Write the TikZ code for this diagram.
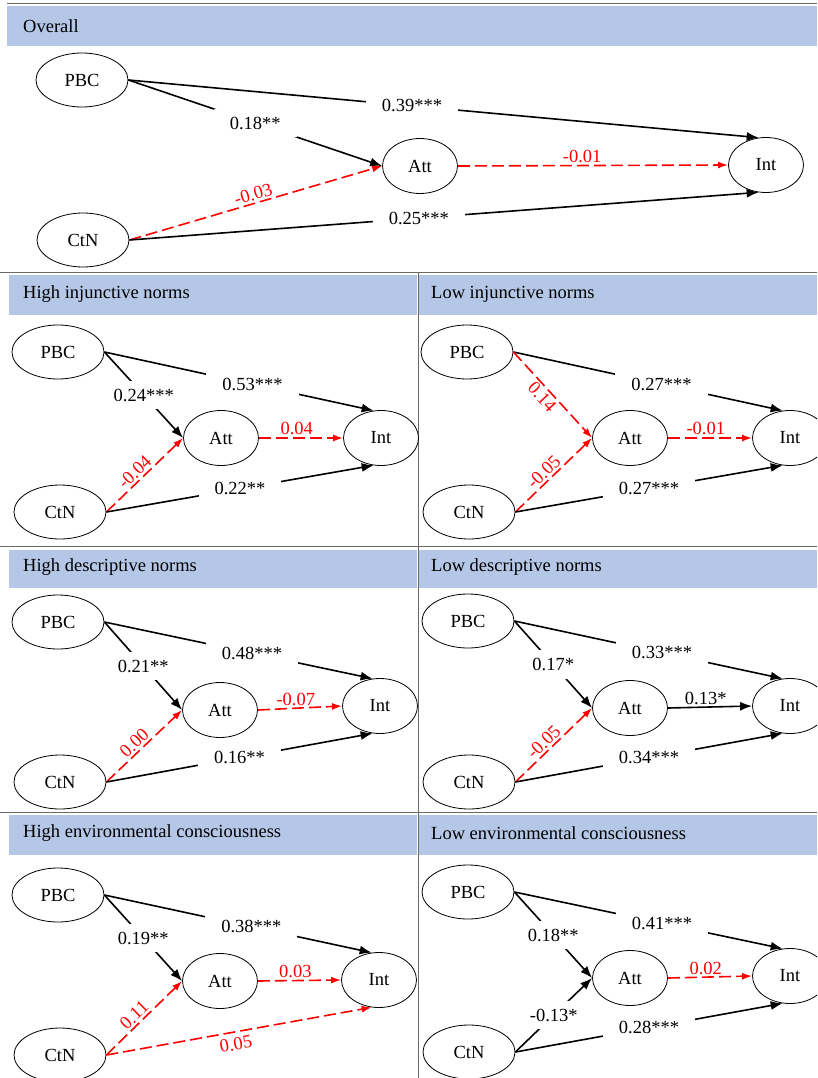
\documentclass[tikz,border=0pt]{standalone}
\usepackage{fontspec}
\setmainfont{Liberation Serif}
\usepackage{xcolor}
\usetikzlibrary{shapes.geometric,arrows.meta}

\definecolor{bandblue}{RGB}{180,199,231}
\definecolor{framegray}{RGB}{105,105,105}

\tikzset{
  var/.style={ellipse, draw, line width=0.8pt, minimum width=92pt, minimum height=54pt, inner sep=0pt},
  medvar/.style={ellipse, draw, line width=0.8pt, minimum width=75pt, minimum height=55pt, inner sep=0pt},
  sig/.style={line width=1.6pt, -{Latex[length=12pt,width=9pt]}},
  ns/.style={red, line width=1.6pt, dash pattern=on 12pt off 5pt, -{Latex[length=10pt,width=7pt]}},
  lab/.style={fill=white, inner xsep=16pt, inner ysep=8pt},
  tag/.style={inner sep=2pt},
  band/.style={fill=bandblue, draw=none},
  hdtext/.style={anchor=west, inner sep=0pt},
  frame/.style={draw=framegray, line width=1pt}
}

\begin{document}
\begin{tikzpicture}[x=1pt, y=-1pt, font=\fontsize{18.5}{22}\selectfont]
    \clip (0,0) rectangle (817,1078);

    % bands and frame
    \fill[band] (7,6) rectangle (817,46);
    \node[hdtext] (hover) at (23,26) {Overall};
    \draw[frame] (7,4) -- (817,4);
    \draw[frame] (0,272) -- (817,272);
    \draw[frame] (0,546) -- (817,546);
    \draw[frame] (0,812) -- (817,812);
    \draw[frame] (418,272) -- (418,1078);

    % overall model
    \node[var] (pbc) at (82,80) {PBC};
    \node[var] (ctn) at (83,240) {CtN};
    \node[medvar] (att) at (420,166) {Att};
    \node[medvar] (int) at (766,165) {Int};
    \draw[sig] (pbc.east) -- (int.105) node[lab, pos=.45] {0.39***};
    \draw[sig] (pbc.east) -- (att.west) node[lab, pos=.5] {0.18**};
    \draw[ns] (ctn.east) -- (att.west) node[tag, pos=.5, sloped, above] {-0.03};
    \draw[ns] (att.east) -- (int.west) node[tag, pos=.46, above] {-0.01};
    \draw[sig] (ctn.east) -- (int.255) node[lab, pos=.46] {0.25***};

    % high injunctive norms
    \begin{scope}[shift={(0,273)}, name prefix=hi-]
    \fill[band] (9,2) rectangle (417,42);
    \node[hdtext] (head) at (23,21) {High injunctive norms};
    \node[var] (pbc) at (58,79) {PBC};
    \node[var] (ctn) at (60,239) {CtN};
    \node[medvar] (att) at (221,165) {Att};
    \node[medvar] (int) at (381,165) {Int};
    \draw[sig] (pbc.east) -- (int.105) node[lab, pos=.55] {0.53***};
    \draw[sig] (pbc.east) -- (att.west) node[lab, pos=.5] {0.24***};
    \draw[ns] (ctn.east) -- (att.west) node[tag, pos=.45, sloped, above] {-0.04};
    \draw[ns] (att.east) -- (int.west) node[tag, pos=.45, above] {0.04};
    \draw[sig] (ctn.east) -- (int.255) node[lab, pos=.5] {0.22**};
    \end{scope}

    % low injunctive norms
    \begin{scope}[shift={(410,273)}, name prefix=li-]
    \fill[band] (9,2) rectangle (407,42);
    \node[hdtext] (head) at (21,21) {Low injunctive norms};
    \node[var] (pbc) at (57,79) {PBC};
    \node[var] (ctn) at (59,239) {CtN};
    \node[medvar] (att) at (220,165) {Att};
    \node[medvar] (int) at (380,165) {Int};
    \draw[sig] (pbc.east) -- (int.105) node[lab, pos=.55] {0.27***};
    \draw[ns] (pbc.east) -- (att.west) node[tag, pos=.45, sloped, below] {0.14};
    \draw[ns] (ctn.east) -- (att.west) node[tag, pos=.45, sloped, above] {-0.05};
    \draw[ns] (att.east) -- (int.west) node[tag, pos=.45, above] {-0.01};
    \draw[sig] (ctn.east) -- (int.255) node[lab, pos=.5] {0.27***};
    \end{scope}

    % high descriptive norms
    \begin{scope}[shift={(0,548)}, name prefix=hd-]
    \fill[band] (9,2) rectangle (417,40);
    \node[hdtext] (head) at (23,19) {High descriptive norms};
    \node[var] (pbc) at (58,74) {PBC};
    \node[var] (ctn) at (60,234) {CtN};
    \node[medvar] (att) at (220,162) {Att};
    \node[medvar] (int) at (380,158) {Int};
    \draw[sig] (pbc.east) -- (int.105) node[lab, pos=.55] {0.48***};
    \draw[sig] (pbc.east) -- (att.west) node[lab, pos=.5] {0.21**};
    \draw[ns] (ctn.east) -- (att.west) node[tag, pos=.45, sloped, above] {0.00};
    \draw[ns] (att.east) -- (int.west) node[tag, pos=.45, above] {-0.07};
    \draw[sig] (ctn.east) -- (int.255) node[lab, pos=.5] {0.16**};
    \end{scope}

    % low descriptive norms
    \begin{scope}[shift={(410,548)}, name prefix=ld-]
    \fill[band] (9,2) rectangle (407,40);
    \node[hdtext] (head) at (21,19) {Low descriptive norms};
    \node[var] (pbc) at (58,73) {PBC};
    \node[var] (ctn) at (59,234) {CtN};
    \node[medvar] (att) at (220,160) {Att};
    \node[medvar] (int) at (380,158) {Int};
    \draw[sig] (pbc.east) -- (int.105) node[lab, pos=.55] {0.33***};
    \draw[sig] (pbc.east) -- (att.west) node[lab, pos=.5] {0.17*};
    \draw[ns] (ctn.east) -- (att.west) node[tag, pos=.45, sloped, above] {-0.05};
    \draw[sig] (att.east) -- (int.west) node[tag, pos=.45, above] {0.13*};
    \draw[sig] (ctn.east) -- (int.255) node[lab, pos=.5] {0.34***};
    \end{scope}

    % high environmental consciousness
    \begin{scope}[shift={(0,813)}, name prefix=he-]
    \fill[band] (9,2) rectangle (417,42);
    \node[hdtext] (head) at (23,20) {High environmental consciousness};
    \node[var] (pbc) at (58,82) {PBC};
    \node[var] (ctn) at (60,242) {CtN};
    \node[medvar] (att) at (220,168) {Att};
    \node[medvar] (int) at (379,167) {Int};
    \draw[sig] (pbc.east) -- (int.105) node[lab, pos=.55] {0.38***};
    \draw[sig] (pbc.east) -- (att.west) node[lab, pos=.5] {0.19**};
    \draw[ns] (ctn.east) -- (att.west) node[tag, pos=.45, sloped, above] {0.11};
    \draw[ns] (att.east) -- (int.west) node[tag, pos=.45, above] {0.03};
    \draw[ns] (ctn.east) -- (int.255) node[inner sep=5pt, pos=.48, sloped, below] {0.05};
    \end{scope}

    % low environmental consciousness
    \begin{scope}[shift={(410,813)}, name prefix=le-]
    \fill[band] (9,2) rectangle (407,42);
    \node[hdtext] (head) at (21,20) {Low environmental consciousness};
    \node[var] (pbc) at (58,79) {PBC};
    \node[var] (ctn) at (59,239) {CtN};
    \node[medvar] (att) at (220,165) {Att};
    \node[medvar] (int) at (380,163) {Int};
    \draw[sig] (pbc.east) -- (int.105) node[lab, pos=.55] {0.41***};
    \draw[sig] (pbc.east) -- (att.west) node[lab, pos=.5] {0.18**};
    \draw[sig] (ctn.east) -- (att.west) node[lab, pos=.5] {-0.13*};
    \draw[ns] (att.east) -- (int.west) node[tag, pos=.45, above] {0.02};
    \draw[sig] (ctn.east) -- (int.255) node[lab, pos=.5] {0.28***};
    \end{scope}
\end{tikzpicture}
\end{document}
